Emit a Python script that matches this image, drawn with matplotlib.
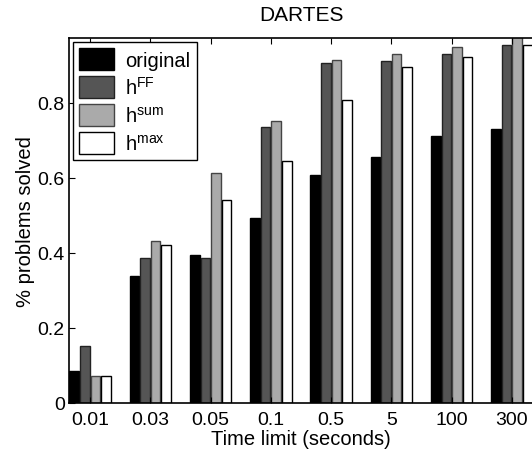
import matplotlib
matplotlib.use("Agg")
import numpy as np
import matplotlib.pyplot as plt

plt.rcParams['font.family'] = ['Liberation Sans', 'DejaVu Sans']
plt.rcParams['mathtext.fontset'] = 'custom'
plt.rcParams['mathtext.rm'] = 'Liberation Sans'

# --- Data ---
time_limits = ['0.01', '0.03', '0.05', '0.1', '0.5', '5', '100', '300']
original = [0.085, 0.339, 0.394, 0.493, 0.608, 0.656, 0.712, 0.731]
h_ff = [0.152, 0.387, 0.387, 0.735, 0.907, 0.912, 0.931, 0.955]
h_sum = [0.072, 0.431, 0.613, 0.752, 0.915, 0.931, 0.950, 0.980]
h_max = [0.072, 0.421, 0.541, 0.645, 0.808, 0.896, 0.923, 0.955]

series = [
    ('original', original, 'black', 'black'),
    (r'h$^{\mathrm{FF}}$', h_ff, '#555555', '#222222'),
    (r'h$^{\mathrm{sum}}$', h_sum, '#aaaaaa', '#444444'),
    (r'h$^{\mathrm{max}}$', h_max, 'white', 'black'),
]

# --- Plot ---
fig = plt.figure(figsize=(5.32, 4.52), dpi=100)
# right edge sits just past the figure, as in the cropped original
ax = fig.add_axes([0.1297, 0.1062, 0.8733, 0.8075])

x = np.arange(1, len(time_limits) + 1)
slot = 0.175
for i, (label, vals, fc, ec) in enumerate(series):
    offset = (i - 1.5) * slot
    ax.bar(x + offset, vals, width=0.16, color=fc, edgecolor=ec,
           linewidth=1.0, label=label)

ax.set_xlim(0.65, 8.36)
ax.set_ylim(0, 0.973)
ax.set_xticks(x)
ax.set_xticklabels(time_limits)
ax.set_yticks([0, 0.2, 0.4, 0.6, 0.8])
ax.set_yticklabels(['0', '0.2', '0.4', '0.6', '0.8'])
ax.tick_params(direction='in', top=True, right=False, labelsize=14,
               length=4)
ax.tick_params(axis='x', pad=6)
ax.tick_params(axis='y', pad=3)
for sp in ax.spines.values():
    sp.set_linewidth(1.2)

ax.set_title('DARTES', fontsize=15, pad=13)
ax.set_xlabel('Time limit (seconds)', fontsize=14.5, labelpad=0.5)
ax.set_ylabel('% problems solved', fontsize=14.5, labelpad=2)

leg = ax.legend(loc='upper left', fontsize=14.5, handlelength=1.75,
                handleheight=1.3, labelspacing=0.3, borderaxespad=0.2,
                handletextpad=0.55, borderpad=0.3, fancybox=False,
                edgecolor='black', framealpha=1)
leg.get_frame().set_linewidth(1.0)

fig.savefig('out.png', dpi=100)
